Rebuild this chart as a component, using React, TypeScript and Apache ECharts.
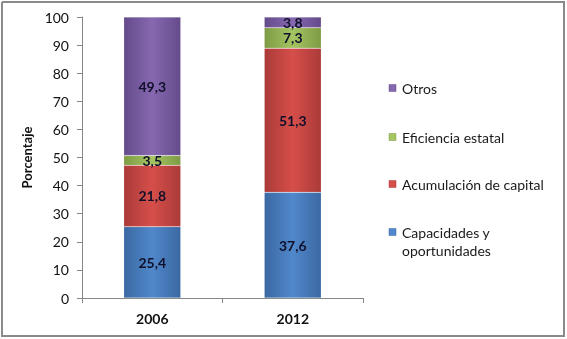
import React, { useEffect, useRef } from "react";
import * as echarts from "echarts";

const categories = ["2006", "2012"];
const capacidades = [25.4, 37.6];
const acumulacion = [21.8, 51.3];
const eficiencia = [3.5, 7.3];
const otros = [49.3, 3.8];
const seriesNames = ["Capacidades y\noportunidades", "Acumulación de capital", "Eficiencia estatal", "Otros"];
const legendOrder = [3, 2, 1, 0];

const palette = [
  { edge: "#3b68a3", mid: "#5088cb" },
  { edge: "#aa3b38", mid: "#d64e4a" },
  { edge: "#7d9b44", mid: "#a5c562" },
  { edge: "#654b8b", mid: "#8668b0" },
];

function grad(i: number) {
  const c = palette[i];
  return new echarts.graphic.LinearGradient(0, 0, 1, 0, [
    { offset: 0, color: c.edge },
    { offset: 0.5, color: c.mid },
    { offset: 1, color: c.edge },
  ]);
}

const fmt = (p: any) => String(p.value).replace(".", ",");

export default function App() {
  const ref = useRef<HTMLDivElement>(null);
  useEffect(() => {
    if (!ref.current) return;
    const chart = echarts.init(ref.current, null, { renderer: "svg" });
    const data = [capacidades, acumulacion, eficiencia, otros];
    const legendY = [88, 137, 184, 232];
    const graphics: any[] = [
      {
        type: "polyline",
        z: 100,
        shape: { points: [[2, 2], [564, 2], [564, 336], [2, 336], [2, 2]] },
        style: { fill: null, stroke: "#8a8a8a", lineWidth: 2 },
        silent: true,
      },
    ];
    legendOrder.forEach((si, k) => {
      const y = legendY[k];
      graphics.push({
        type: "rect",
        shape: { x: 389, y: y - 3.5, width: 7, height: 7 },
        style: { fill: palette[si].mid, stroke: palette[si].edge, lineWidth: 0.5 },
      });
      graphics.push({
        type: "text",
        x: 402,
        y: y - 9,
        style: {
          text: seriesNames[si],
          font: "14px Lato",
          fill: "#1a1a1a",
          verticalAlign: "top",
          lineHeight: 18,
        },
      });
    });
    chart.setOption({
      animation: false,
      grid: { left: 82, right: 204, top: 17, bottom: 41 },
      xAxis: {
        type: "category",
        data: categories,
        axisLine: { lineStyle: { color: "#868686", width: 1 } },
        axisTick: { show: true, length: 5, lineStyle: { color: "#868686" } },
        axisLabel: { fontFamily: "Lato", fontWeight: "bold", fontSize: 14, color: "#111", margin: 13 },
      },
      yAxis: {
        type: "value",
        min: 0,
        max: 100,
        interval: 10,
        name: "Porcentaje",
        nameLocation: "middle",
        nameGap: 49,
        nameTextStyle: { fontFamily: "Lato", fontWeight: "bold", fontSize: 13, color: "#111" },
        axisLine: { show: true, lineStyle: { color: "#868686", width: 1 } },
        axisTick: { show: true, length: 5, lineStyle: { color: "#868686" } },
        splitLine: { show: false },
        axisLabel: { fontFamily: "Lato", fontSize: 14, color: "#111", margin: 13 },
      },
      graphic: graphics,
      series: data.map((d, i) => ({
        type: "bar",
        name: seriesNames[i],
        stack: "total",
        barWidth: 57,
        data: d,
        itemStyle: { color: grad(i), borderColor: "rgba(255,255,255,0.35)", borderWidth: 0.5 },
        label: {
          show: true,
          position: "inside",
          formatter: fmt,
          fontFamily: "Lato",
          fontWeight: "bold",
          fontSize: 14,
          color: "#10102a",
        },
      })),
    });
    return () => chart.dispose();
  }, []);
  return (
    <div
      ref={ref}
      style={{ position: "fixed", left: 0, top: 0, width: 567, height: 339 }}
    />
  );
}
